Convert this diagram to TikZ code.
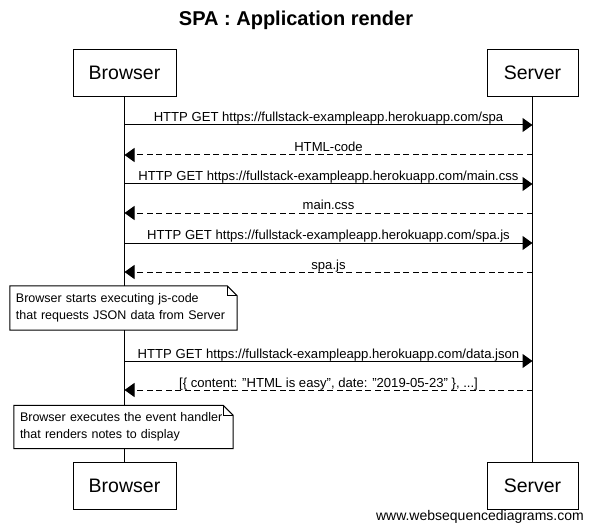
\documentclass[tikz,border=0pt]{standalone}
\usepackage{fontspec}
\setmainfont{Liberation Sans}
\usetikzlibrary{arrows.meta,calc}
\begin{document}
\begin{tikzpicture}[x=1pt,y=1pt,
  actor/.style={draw,line width=1pt,minimum height=47pt,inner sep=0pt,font=\fontsize{19.5}{22}\selectfont},
  life/.style={line width=1pt},
  req/.style={line width=1pt,-{Triangle[length=10pt,width=14pt]}},
  resp/.style={line width=1pt,dash pattern=on 6pt off 3.5pt,-{Triangle[length=10pt,width=14pt]}},
  lbl/.style={anchor=base,inner sep=0pt,font=\fontsize{13.1}{15}\selectfont},
  notebox/.style={fill=white,inner sep=6pt,align=left,font=\fontsize{12.5}{17.5}\selectfont},
  notefold/.style={line width=1pt}]
\useasboundingbox (0,0) rectangle (592,-532);
\node[font=\bfseries\fontsize{20}{23}\selectfont] (title) at (296,-20) {SPA : Application render};
\node[actor,minimum width=103pt] (bt) at (124.5,-73) {Browser};
\node[actor,minimum width=91pt] (st) at (532.5,-73) {Server};
\node[actor,minimum width=103pt] (bb) at (124.5,-486) {Browser};
\node[actor,minimum width=91pt] (sb) at (532.5,-486) {Server};
\draw[life] (bt.south) -- (bb.north);
\draw[life] (st.south) -- (sb.north);
% lifeline points
\coordinate (b1) at (124.5,-125); \coordinate (s1) at (532.5,-125);
\coordinate (b2) at (124.5,-155); \coordinate (s2) at (532.5,-155);
\coordinate (b3) at (124.5,-184); \coordinate (s3) at (532.5,-184);
\coordinate (b4) at (124.5,-213); \coordinate (s4) at (532.5,-213);
\coordinate (b5) at (124.5,-243); \coordinate (s5) at (532.5,-243);
\coordinate (b6) at (124.5,-272); \coordinate (s6) at (532.5,-272);
\coordinate (b7) at (124.5,-361); \coordinate (s7) at (532.5,-361);
\coordinate (b8) at (124.5,-390); \coordinate (s8) at (532.5,-390);
\draw[req] (b1) -- (s1) node[lbl,midway,yshift=3pt] {HTTP GET https://fullstack-exampleapp.herokuapp.com/spa};
\draw[resp] (s2) -- (b2) node[lbl,midway,yshift=3pt] {HTML-code};
\draw[req] (b3) -- (s3) node[lbl,midway,yshift=3pt] {HTTP GET https://fullstack-exampleapp.herokuapp.com/main.css};
\draw[resp] (s4) -- (b4) node[lbl,midway,yshift=3pt] {main.css};
\draw[req] (b5) -- (s5) node[lbl,midway,yshift=3pt] {HTTP GET https://fullstack-exampleapp.herokuapp.com/spa.js};
\draw[resp] (s6) -- (b6) node[lbl,midway,yshift=3pt] {spa.js};
\draw[req] (b7) -- (s7) node[lbl,midway,yshift=3pt] {HTTP GET https://fullstack-exampleapp.herokuapp.com/data.json};
\draw[resp] (s8) -- (b8) node[lbl,midway,yshift=3pt] {[\{ content: "HTML is easy", date: "2019-05-23" \}, ...]};
% notes
\node[notebox,text width=215pt,minimum height=44pt] (n1) at (123.5,-308) {Browser starts executing js-code\\that requests JSON data from Server};
\draw[notefold] (n1.north west) -- ($(n1.north east)+(-10,0)$) -- ($(n1.north east)+(0,-10)$) -- (n1.south east) -- (n1.south west) -- cycle;
\draw[notefold] ($(n1.north east)+(-10,0)$) -- ($(n1.north east)+(-10,-10)$) -- ($(n1.north east)+(0,-10)$);
\node[notebox,text width=207pt,minimum height=43pt] (n2) at (123.5,-427) {Browser executes the event handler\\that renders notes to display};
\draw[notefold] (n2.north west) -- ($(n2.north east)+(-10,0)$) -- ($(n2.north east)+(0,-10)$) -- (n2.south east) -- (n2.south west) -- cycle;
\draw[notefold] ($(n2.north east)+(-10,0)$) -- ($(n2.north east)+(-10,-10)$) -- ($(n2.north east)+(0,-10)$);
\node[anchor=east,inner sep=0pt,font=\fontsize{14}{16}\selectfont] (wm) at (584,-517) {www.websequencediagrams.com};
\end{tikzpicture}
\end{document}
